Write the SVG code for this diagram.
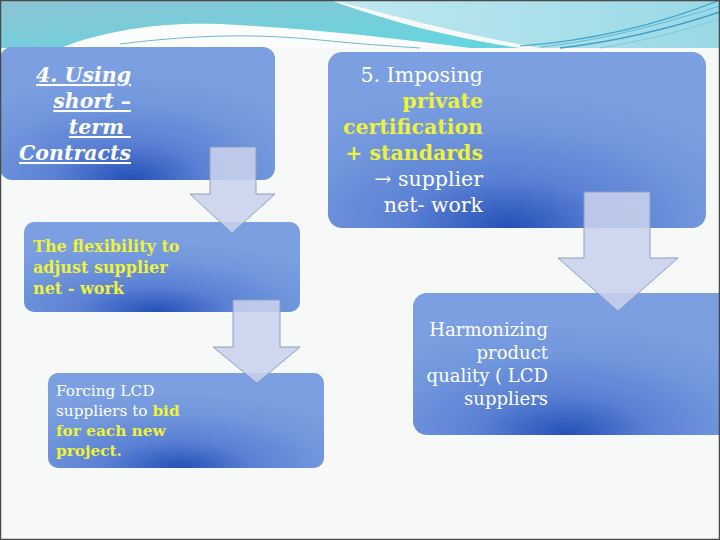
<svg xmlns="http://www.w3.org/2000/svg" width="720" height="540" viewBox="0 0 720 540">
<defs>
<radialGradient id="boxg" cx="0.45" cy="0.95" r="0.75" fx="0.48" fy="1">
<stop offset="0" stop-color="#2450b8"/>
<stop offset="0.35" stop-color="#5a80d4"/>
<stop offset="0.7" stop-color="#7096dc"/>
<stop offset="1" stop-color="#7b9fe0"/>
</radialGradient>
<linearGradient id="teal" x1="0" y1="0" x2="1" y2="1">
<stop offset="0" stop-color="#8cc4d4"/>
<stop offset="1" stop-color="#62d6e0"/>
</linearGradient>
<linearGradient id="cyan" x1="0" y1="0" x2="1" y2="0">
<stop offset="0" stop-color="#bfe9f0"/>
<stop offset="1" stop-color="#9ad8e6"/>
</linearGradient>
<style>
.box{fill:url(#boxg);}
.arrow{fill:#c8d2ec;fill-opacity:0.88;stroke:#8f9dc4;stroke-width:1;}
.t{font-family:"DejaVu Serif","Liberation Serif",serif;fill:#ffffff;}
.y{fill:#eef23c;font-weight:bold;}
</style>
</defs>
<rect x="0" y="0" width="720" height="540" fill="#f7f8f8"/>
<g id="banner">
<path d="M0,0 H330 C380,18 440,36 520,48 L0,48 Z" fill="url(#teal)"/>
<path d="M60,48 C110,28 170,22 220,24 C300,28 380,36 470,48 Z" fill="#fbfdfd"/>
<path d="M120,44 C200,34 260,34 320,40 C360,44 390,46 420,48" fill="none" stroke="#4aa8c0" stroke-width="0.8"/>
<path d="M330,0 H720 V48 H540 C450,32 390,14 330,0 Z" fill="url(#cyan)"/>
<path d="M520,46 C600,40 670,20 720,0" fill="none" stroke="#3da8cc" stroke-width="1.2"/>
<path d="M540,47 C610,40 680,18 720,6" fill="none" stroke="#5fbcd8" stroke-width="1"/>
<path d="M560,48 C630,40 690,22 720,12" fill="none" stroke="#3da0c8" stroke-width="1.4"/>
<path d="M600,48 C650,40 700,26 720,18" fill="none" stroke="#7ccbe0" stroke-width="1"/>
</g>
<g id="node1">
<rect class="box" x="0" y="47" width="275" height="133" rx="12"/>
<text class="t" font-size="20.5" font-style="italic" font-weight="bold" text-anchor="end" text-decoration="underline"><tspan x="131" y="82">4. Using</tspan><tspan x="131" y="108">short –</tspan><tspan x="131" y="134">term&#160;</tspan><tspan x="131" y="160">Contracts</tspan></text>
</g>
<g id="node4">
<rect class="box" x="328" y="52" width="378" height="176" rx="14"/>
<text class="t" font-size="20.5" text-anchor="end"><tspan x="483" y="82">5. Imposing</tspan><tspan x="483" y="108" class="y">private</tspan><tspan x="483" y="134" class="y">certification</tspan><tspan x="483" y="160" class="y">+ standards</tspan><tspan x="483" y="186">→ supplier</tspan><tspan x="483" y="212">net- work</tspan></text>
</g>
<g id="node2">
<rect class="box" x="24" y="222" width="276" height="90" rx="10"/>
<text class="t y" font-size="16"><tspan x="33" y="252">The flexibility to</tspan><tspan x="33" y="273">adjust supplier</tspan><tspan x="33" y="294">net - work</tspan></text>
</g>
<g id="node3">
<rect class="box" x="48" y="373" width="276" height="95" rx="10"/>
<text class="t" font-size="15.3"><tspan x="56" y="396">Forcing LCD</tspan><tspan x="56" y="416">suppliers to <tspan class="y">bid</tspan></tspan><tspan x="56" y="436" class="y">for each new</tspan><tspan x="56" y="456" class="y">project.</tspan></text>
</g>
<g id="node5">
<rect class="box" x="413" y="293" width="320" height="142" rx="14"/>
<text class="t" font-size="18" text-anchor="end"><tspan x="548" y="336">Harmonizing</tspan><tspan x="548" y="359">product</tspan><tspan x="548" y="382">quality ( LCD</tspan><tspan x="548" y="405">suppliers</tspan></text>
</g>
<g id="connectors">
<path class="arrow" d="M210,147 H256 V194 H275 L232,233 L190,194 H210 Z"/>
<path class="arrow" d="M233,300 H280 V347 H300 L257,383 L213,347 H233 Z"/>
<path class="arrow" d="M584,192 H650 V258 H678 L618,311 L558,258 H584 Z"/>
</g>
<rect x="0.5" y="0.5" width="719" height="539" fill="none" stroke="#4a4a4a" stroke-width="1.5"/>
</svg>
